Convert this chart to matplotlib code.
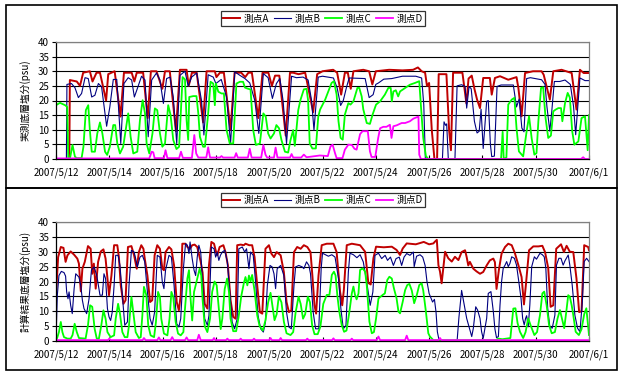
import matplotlib
matplotlib.use("Agg")
import matplotlib.pyplot as plt
from matplotlib.patches import Rectangle
import numpy as np

plt.rcParams["font.family"] = ["Noto Sans CJK JP", "DejaVu Sans"]

# ── データ（横軸 = 2007/5/12 からの経過日数, 縦軸 = 塩分 psu） ──────────
tick_days = list(range(0, 21, 2))
tick_labels = ["2007/5/12", "2007/5/14", "2007/5/16", "2007/5/18", "2007/5/20",
               "2007/5/22", "2007/5/24", "2007/5/26", "2007/5/28", "2007/5/30",
               "2007/6/1"]
series_names = ["測点A", "測点B", "測点C", "測点D"]

# 実測
obs_a = [(0, 0), (0.5, 0), (0.52, 27), (0.78, 26.5), (0.9, 25), (1.02, 29.5), (1.27, 30), (1.37, 26.5),
         (1.52, 29.5), (1.65, 29.5), (1.88, 20), (1.96, 29), (2.2, 30), (2.42, 14.5), (2.55, 29.5),
         (2.84, 29.5), (2.94, 26.5), (3.03, 29.5), (3.27, 29.5), (3.44, 14), (3.56, 30), (3.77, 30),
         (3.99, 24), (4.09, 30), (4.27, 30), (4.5, 9.5), (4.65, 30.5), (4.9, 30.5), (4.98, 25),
         (5.1, 29.5), (5.28, 29.5), (5.52, 12.5), (5.65, 30), (5.96, 30), (6.02, 28), (6.15, 29.5),
         (6.3, 29.5), (6.55, 10), (6.7, 29.5), (6.95, 29.5), (7.1, 28), (7.22, 29.5), (7.35, 29.5),
         (7.59, 14), (7.75, 29.5), (7.97, 29.5), (8.1, 25), (8.22, 28.5), (8.38, 28.5), (8.62, 8),
         (8.78, 29.5), (8.9, 29.5), (9.1, 29), (9.35, 29.5), (9.65, 16), (9.8, 29), (10.0, 30),
         (10.4, 30.5), (10.55, 29.5), (10.7, 22), (10.84, 29.5), (10.95, 29.5), (11.06, 24),
         (11.16, 30), (11.53, 30.5), (11.75, 30), (11.87, 25.5), (12.0, 30), (12.5, 30.5),
         (13.0, 30.3), (13.4, 30.5), (13.58, 31.3), (13.72, 30), (13.85, 29.5), (13.92, 25),
         (14.0, 26), (14.1, 10), (14.2, 0), (14.3, 0), (14.36, 29), (14.65, 29), (14.75, 10),
         (14.82, 3), (14.9, 29.5), (15.25, 29.5), (15.4, 19), (15.48, 27.5), (15.6, 28.5),
         (15.7, 24), (15.8, 20.3), (15.91, 17.4), (16.03, 27.7), (16.28, 27.7), (16.35, 22),
         (16.47, 27.7), (16.66, 28.3), (16.97, 27.1), (17.28, 28), (17.35, 24.3), (17.47, 14.6),
         (17.6, 29.4), (17.9, 30), (18.22, 30), (18.3, 28.8), (18.53, 20.3), (18.66, 30),
         (18.97, 30.5), (19.35, 29.4), (19.53, 16.9), (19.66, 30.5), (19.8, 29.4), (20.0, 29.4)]
obs_b = [(0, 0), (0.39, 0), (0.41, 25.5), (0.58, 25.8), (0.71, 24.4), (0.84, 21), (0.96, 22.4),
         (1.09, 27.8), (1.21, 27.5), (1.34, 21.2), (1.46, 21.8), (1.59, 25.8), (1.71, 24.7),
         (1.9, 11.2), (2.02, 17.8), (2.15, 27.2), (2.28, 27.2), (2.43, 5.3), (2.55, 25.8),
         (2.71, 27.8), (2.84, 27), (2.94, 21.2), (3.03, 23.5), (3.21, 28.3), (3.34, 27), (3.46, 7.6),
         (3.59, 27), (3.77, 29.4), (3.9, 27), (4.03, 19), (4.15, 27.5), (4.28, 28), (4.4, 21.2),
         (4.53, 5.3), (4.65, 28.6), (4.84, 30), (4.96, 24.9), (5.09, 28), (5.28, 29.4), (5.46, 20),
         (5.55, 8.2), (5.71, 28.8), (5.9, 28), (6.0, 25.8), (6.2, 27.2), (6.4, 21.2), (6.55, 5.3),
         (6.71, 29.8), (6.9, 28.6), (7.09, 27.5), (7.27, 26), (7.46, 20), (7.61, 8.75), (7.78, 29.2),
         (7.96, 27.8), (8.12, 20.7), (8.27, 25.8), (8.4, 27.5), (8.52, 20), (8.65, 5.3), (8.84, 28.3),
         (9.02, 27.8), (9.27, 28), (9.46, 27), (9.59, 20), (9.68, 9.9), (9.84, 28), (10.0, 28.3),
         (10.41, 27.7), (10.55, 24.3), (10.68, 18.3), (10.78, 20), (10.9, 24.5), (11.0, 27.7),
         (11.6, 27.5), (11.75, 21), (11.9, 22), (12.0, 25.5), (12.1, 26), (12.3, 27.3), (12.6, 27.5),
         (13.0, 28.3), (13.5, 28.3), (13.72, 27.7), (13.8, 18.6), (13.86, 0), (14.5, 0),
         (14.56, 12.7), (14.62, 11.5), (14.66, 12), (14.72, 0), (14.97, 0), (15.05, 25),
         (15.22, 25.4), (15.35, 24.8), (15.41, 17.4), (15.5, 24.8), (15.58, 24), (15.7, 12.9),
         (15.8, 8.9), (15.88, 9.5), (15.95, 17), (16.03, 3.6), (16.16, 19.7), (16.22, 20),
         (16.3, 5), (16.35, 0.8), (16.45, 1), (16.55, 24.8), (16.7, 25.3), (17.16, 25.3),
         (17.28, 17.8), (17.38, 20.5), (17.48, 10.6), (17.56, 9.3), (17.66, 27.5), (17.8, 27.8),
         (18.22, 27.1), (18.35, 25.5), (18.42, 18), (18.53, 9.5), (18.6, 16), (18.7, 26.5),
         (18.9, 26.5), (19.1, 27), (19.3, 25.5), (19.42, 18), (19.5, 8.3), (19.66, 27.7),
         (19.85, 26.8), (20.0, 26.8)]
obs_c = [(0, 18.4), (0.15, 19.2), (0.34, 18.4), (0.42, 17.8), (0.46, 0), (0.52, 0), (0.62, 4.8),
         (0.71, 0.8), (0.78, 0.3), (0.96, 0.3), (1.03, 4.2), (1.12, 16.7), (1.21, 18.4), (1.27, 9.9),
         (1.34, 2.5), (1.46, 2.5), (1.55, 8.75), (1.65, 12.5), (1.74, 8.75), (1.84, 2.5), (1.92, 1.4),
         (2.02, 4.2), (2.15, 11.6), (2.22, 11.6), (2.3, 5.3), (2.4, 1.9), (2.52, 4.2), (2.71, 15.6),
         (2.8, 7.6), (2.9, 1.9), (3.05, 2.5), (3.15, 13.3), (3.25, 20.1), (3.34, 15.6), (3.4, 5.3),
         (3.5, 1.9), (3.62, 8.75), (3.71, 17.3), (3.8, 16.7), (3.9, 8.75), (3.99, 4.2), (4.09, 5.3),
         (4.21, 18.4), (4.3, 15), (4.4, 6.5), (4.52, 3.4), (4.62, 4.2), (4.75, 28), (4.84, 27.2),
         (4.9, 13.3), (4.96, 6.5), (5.0, 21.2), (5.15, 21.5), (5.27, 21.5), (5.34, 15.6), (5.4, 7.6),
         (5.52, 4.2), (5.59, 4.2), (5.71, 15.6), (5.8, 26.4), (5.9, 25.8), (5.96, 18.4), (6.0, 25.8),
         (6.09, 23), (6.21, 22.4), (6.3, 22.4), (6.4, 9.9), (6.52, 5.3), (6.65, 5.3), (6.77, 25.8),
         (6.9, 26.4), (7.02, 26.4), (7.09, 24.4), (7.21, 24), (7.3, 23.8), (7.4, 9.9), (7.5, 4.8),
         (7.65, 5.3), (7.78, 15.6), (7.87, 14.5), (7.96, 8.75), (8.05, 7), (8.18, 8.75), (8.27, 11.6),
         (8.37, 10.5), (8.46, 6.5), (8.59, 2.5), (8.71, 2.2), (8.8, 6.5), (8.9, 9.9), (8.96, 4.5),
         (9.02, 9.9), (9.09, 16.7), (9.17, 20.1), (9.3, 23.8), (9.4, 24), (9.46, 20), (9.52, 5.3),
         (9.62, 3.6), (9.75, 3.6), (9.84, 14.4), (9.91, 16.9), (10.1, 20.3), (10.22, 23.1),
         (10.34, 26), (10.43, 26.6), (10.53, 22), (10.6, 12.9), (10.68, 7.2), (10.76, 6.6),
         (10.84, 15.2), (10.97, 19.1), (11.05, 18.6), (11.16, 19.7), (11.31, 24.3), (11.38, 24.3),
         (11.47, 21.4), (11.53, 17), (11.66, 12.3), (11.78, 12), (11.88, 15.2), (12.01, 18.6),
         (12.16, 19.7), (12.34, 22), (12.47, 24.3), (12.56, 24.3), (12.6, 19.7), (12.66, 23.1),
         (12.75, 23.5), (12.84, 21.4), (12.91, 23.1), (13.1, 24.3), (13.28, 25.4), (13.47, 26),
         (13.63, 26.6), (13.69, 18.6), (13.78, 7.2), (13.88, 1), (13.97, 0), (16.7, 0),
         (16.76, 9.3), (16.8, 0), (16.9, 0.5), (16.97, 18.6), (17.1, 20.3), (17.2, 20.9),
         (17.28, 10.6), (17.37, 2.6), (17.53, 0.9), (17.66, 9.5), (17.75, 14.6), (17.85, 7),
         (17.95, 1.5), (18.03, 2), (18.1, 12.9), (18.2, 24.3), (18.28, 24.5), (18.37, 14),
         (18.47, 7.2), (18.57, 8), (18.66, 16.3), (18.75, 16.9), (18.85, 17.4), (18.95, 17.4),
         (19.0, 12.9), (19.1, 19.1), (19.2, 22.6), (19.28, 21), (19.37, 9.5), (19.45, 4.9),
         (19.6, 6), (19.72, 14), (19.85, 14.6), (19.95, 3), (20.0, 15)]
obs_d = [(0, 0.2), (3.5, 0.2), (3.59, 2.5), (3.65, 2.3), (3.7, 0.3), (4.05, 0.3), (4.11, 3),
         (4.18, 0.3), (4.62, 0.3), (4.69, 2.5), (4.76, 0.4), (5.1, 0.4), (5.19, 8.2), (5.26, 1.9),
         (5.34, 0.5), (5.64, 0.5), (5.71, 4), (5.78, 0.5), (6.15, 0.5), (6.21, 1), (6.27, 0.5),
         (6.7, 0.5), (6.76, 2), (6.82, 0.5), (7.2, 0.5), (7.27, 3.5), (7.34, 0.5), (7.7, 0.5),
         (7.78, 4.8), (7.86, 1.5), (7.92, 0.5), (8.18, 0.5), (8.24, 3.9), (8.31, 0.5), (8.78, 0.5),
         (8.84, 1.7), (8.9, 0.5), (9.2, 0.5), (9.3, 1.5), (9.4, 0.6), (9.9, 1.2), (10.2, 1),
         (10.3, 4.3), (10.38, 4.9), (10.47, 2), (10.53, 0.3), (10.75, 0.3), (10.84, 3.2),
         (10.97, 4.9), (11.1, 4.8), (11.2, 3.5), (11.28, 3.2), (11.41, 8.5), (11.5, 9.5),
         (11.7, 9.5), (11.78, 2.6), (11.84, 0.7), (11.98, 0.7), (12.09, 7.2), (12.16, 10.5),
         (12.28, 11), (12.4, 11), (12.53, 11.7), (12.59, 7.2), (12.66, 11.2), (12.78, 11.5),
         (12.97, 12.3), (13.1, 12.3), (13.28, 12.9), (13.41, 13.8), (13.6, 14.5), (13.63, 1.5),
         (13.69, 0), (19.7, 0), (19.78, 0.6), (19.85, 0), (20, 0)]

# 計算結果
calc_a = [(0, 15.4), (0.08, 28.2), (0.18, 31.6), (0.28, 31.3), (0.36, 26.6), (0.43, 28.8), (0.55, 30.1),
          (0.68, 29), (0.8, 27.7), (0.86, 26), (0.93, 16.7), (0.99, 24.3), (1.08, 26.6), (1.2, 31.9),
          (1.3, 31), (1.36, 22.6), (1.42, 26), (1.49, 17.6), (1.58, 26.6), (1.68, 30.1), (1.78, 30.8),
          (1.86, 27.7), (1.93, 21), (1.99, 15.4), (2.08, 22), (2.18, 32.2), (2.3, 32.2), (2.36, 28.2),
          (2.43, 18.7), (2.53, 12.5), (2.61, 13.7), (2.7, 31.6), (2.83, 31.9), (2.93, 28.8),
          (3.03, 24.3), (3.11, 29.9), (3.2, 32.2), (3.28, 31), (3.33, 27.7), (3.43, 22), (3.53, 13.1),
          (3.61, 13.7), (3.7, 28.8), (3.8, 32.2), (3.9, 31), (3.99, 24.3), (4.05, 23.8), (4.11, 29.9),
          (4.24, 31.6), (4.33, 30.8), (4.43, 25.4), (4.53, 13.1), (4.61, 10.3), (4.68, 15.4),
          (4.74, 32.7), (4.86, 32.7), (4.93, 31.6), (5.03, 31), (5.11, 32.2), (5.2, 32.4), (5.3, 31.6),
          (5.43, 26.6), (5.5, 23), (5.58, 12.5), (5.68, 10.9), (5.74, 25.4), (5.83, 33.3),
          (5.93, 32.7), (5.99, 30.5), (6.05, 28.8), (6.14, 31.6), (6.28, 32.2), (6.36, 29.9),
          (6.45, 25.4), (6.55, 13.7), (6.65, 8.1), (6.74, 7.5), (6.8, 32.2), (6.93, 32.4),
          (7.05, 32.2), (7.11, 32.7), (7.25, 32.2), (7.36, 32.2), (7.45, 28.2), (7.55, 18.7),
          (7.65, 9.7), (7.74, 9.2), (7.86, 31), (7.99, 32.2), (8.08, 29.4), (8.18, 28.2), (8.28, 29.9),
          (8.43, 28.8), (8.55, 23.2), (8.65, 13.1), (8.74, 9.7), (8.83, 10.3), (8.93, 29.9),
          (9.05, 31.6), (9.18, 31), (9.3, 32.2), (9.43, 31.6), (9.55, 29.9), (9.62, 22), (9.7, 12),
          (9.76, 9.2), (9.85, 22), (9.97, 32.2), (10.16, 32.7), (10.41, 32.7), (10.53, 29.9),
          (10.66, 16.5), (10.74, 12), (10.8, 17), (10.91, 32.2), (11.1, 32.7), (11.41, 32.2),
          (11.6, 30), (11.72, 19.5), (11.81, 19), (11.91, 27.8), (12.01, 31.7), (12.3, 31.5),
          (12.6, 31.7), (12.78, 30.6), (12.91, 28.9), (13.01, 31.1), (13.16, 32.8), (13.5, 32.5),
          (13.8, 33.3), (14.0, 32.5), (14.16, 32.8), (14.22, 33.4), (14.29, 34), (14.35, 25.5),
          (14.41, 23.3), (14.47, 19.4), (14.6, 30), (14.72, 27.8), (14.85, 26.7), (14.97, 28.3),
          (15.1, 27.2), (15.22, 29.9), (15.35, 30.5), (15.41, 28.2), (15.47, 25.4), (15.53, 26.6),
          (15.66, 24.3), (15.78, 23.4), (15.91, 22.6), (16.03, 23.2), (16.16, 25.4), (16.28, 27.1),
          (16.41, 27.7), (16.47, 26.5), (16.53, 17.5), (16.62, 24), (16.72, 29.4), (16.85, 31.6),
          (16.97, 32.7), (17.1, 32.2), (17.22, 29.5), (17.35, 25.5), (17.47, 21.5), (17.56, 12.3),
          (17.63, 18.7), (17.75, 30.5), (17.91, 31.8), (18.1, 31.8), (18.25, 32), (18.35, 29.9),
          (18.47, 24.5), (18.56, 11.5), (18.66, 12), (18.77, 31), (18.95, 32.5), (19.06, 29.9),
          (19.16, 32), (19.28, 30), (19.41, 29.9), (19.53, 21), (19.63, 9.7), (19.72, 10),
          (19.82, 32.2), (19.97, 31.6), (20.0, 30.5)]
calc_b = [(0, 0.8), (0.05, 15.4), (0.11, 22), (0.2, 23.4), (0.3, 23), (0.36, 21.8), (0.4, 16.5),
          (0.45, 14.2), (0.49, 16.5), (0.55, 12), (0.61, 9.2), (0.68, 17.6), (0.74, 22.6), (0.86, 21.5),
          (0.93, 18.7), (0.99, 13.7), (1.05, 10.9), (1.15, 9.2), (1.24, 14.2), (1.33, 23.8),
          (1.43, 24.9), (1.53, 22), (1.58, 19.3), (1.65, 15.4), (1.74, 15.4), (1.8, 22.6), (1.86, 21),
          (1.93, 10.9), (1.99, 8.1), (2.05, 6.9), (2.11, 9.7), (2.18, 18.7), (2.24, 28.8),
          (2.33, 28.8), (2.4, 25.4), (2.49, 15.4), (2.58, 5.3), (2.68, 6.4), (2.74, 18.7),
          (2.83, 30.5), (2.93, 29.9), (2.99, 27.7), (3.05, 24.9), (3.15, 28.2), (3.24, 28.8),
          (3.33, 26.6), (3.43, 16.5), (3.53, 7.5), (3.61, 5.3), (3.7, 9.7), (3.8, 28.8), (3.9, 28.2),
          (3.99, 19.8), (4.05, 17.6), (4.11, 23.8), (4.24, 28.8), (4.33, 28.2), (4.43, 18.7),
          (4.53, 5.8), (4.61, 4.7), (4.68, 7.5), (4.78, 24.3), (4.86, 32.7), (4.93, 32.2),
          (4.99, 29.4), (5.03, 33.3), (5.08, 29.9), (5.11, 27.7), (5.18, 23.8), (5.24, 22),
          (5.3, 28.2), (5.36, 32.2), (5.43, 29.9), (5.49, 21), (5.58, 7.5), (5.68, 5.3), (5.74, 8.6),
          (5.83, 31.6), (5.93, 31), (5.99, 28.2), (6.05, 29.9), (6.11, 27.1), (6.17, 28.8),
          (6.24, 29.9), (6.33, 30.5), (6.43, 26.6), (6.53, 15.4), (6.61, 6.4), (6.7, 4.1), (6.8, 7.5),
          (6.86, 31), (6.99, 31.6), (7.08, 29.9), (7.15, 31), (7.24, 24.3), (7.3, 29.9), (7.4, 28.8),
          (7.49, 19.8), (7.58, 8.6), (7.68, 4.1), (7.78, 3), (7.86, 6.4), (7.93, 18.7), (8.03, 25.4),
          (8.11, 24.9), (8.18, 22.6), (8.24, 17.6), (8.3, 24.3), (8.43, 25.4), (8.55, 22),
          (8.65, 9.7), (8.74, 4.7), (8.83, 4.1), (8.93, 18.7), (8.99, 24.9), (9.11, 25.4),
          (9.24, 24.9), (9.3, 24.3), (9.4, 26.6), (9.49, 25.4), (9.55, 22.6), (9.65, 9.7),
          (9.74, 4.1), (9.86, 4.1), (9.95, 24.3), (10.0, 29.5), (10.22, 28.5), (10.35, 29),
          (10.47, 28.2), (10.6, 21), (10.69, 10.9), (10.78, 4.1), (10.88, 5.2), (10.97, 23.2),
          (11.03, 29.5), (11.16, 29), (11.29, 28), (11.41, 29), (11.53, 26.6), (11.66, 19.8),
          (11.79, 12), (11.89, 16.5), (11.97, 28.8), (12.1, 29.5), (12.22, 27.7), (12.35, 28.8),
          (12.44, 27.1), (12.55, 28.2), (12.66, 25.4), (12.76, 27.7), (12.88, 28.2), (12.97, 25.4),
          (13.06, 28.2), (13.16, 29.4), (13.28, 28.8), (13.41, 29.9), (13.44, 25), (13.53, 28.5),
          (13.66, 29), (13.76, 28.2), (13.85, 25.4), (13.92, 20), (14.0, 16), (14.13, 13.1),
          (14.2, 14), (14.26, 9.7), (14.31, 3.1), (14.38, 0), (15.05, 0), (15.12, 8), (15.22, 17),
          (15.3, 13), (15.41, 7.6), (15.53, 3.7), (15.6, 1.5), (15.66, 4.3), (15.75, 11.5),
          (15.82, 10.4), (15.91, 7.6), (15.97, 3.1), (16.03, 0.9), (16.16, 7.6), (16.22, 16),
          (16.32, 16.6), (16.41, 9.9), (16.47, 4), (16.53, 1.1), (16.6, 1.5), (16.66, 12),
          (16.72, 20), (16.78, 24.4), (16.85, 25.5), (16.91, 26.7), (16.97, 25), (17.03, 26),
          (17.1, 28.3), (17.2, 27.8), (17.28, 25.5), (17.35, 21), (17.45, 14.3), (17.51, 7.6),
          (17.57, 5.4), (17.62, 7.6), (17.66, 8.5), (17.72, 4.8), (17.78, 12.1), (17.85, 25),
          (17.95, 28.3), (18.03, 27.5), (18.16, 29.5), (18.25, 29), (18.32, 28.3), (18.38, 24.5),
          (18.45, 11), (18.53, 4.8), (18.62, 4.3), (18.72, 8.7), (18.78, 25.5), (18.87, 27.8),
          (18.95, 27.8), (19.03, 25.5), (19.1, 27), (19.22, 28.9), (19.28, 25.5), (19.37, 18.8),
          (19.47, 8.7), (19.57, 4.3), (19.66, 3.1), (19.75, 13.2), (19.82, 26.7), (19.91, 27.8),
          (20.0, 26.7)]
calc_c = [(0, 0.2), (0.05, 1.2), (0.11, 3), (0.18, 6.4), (0.24, 3), (0.3, 1.3), (0.43, 0.8), (0.55, 0.8),
          (0.62, 2), (0.7, 5.8), (0.78, 3), (0.86, 1), (1.11, 0.8), (1.2, 5.3), (1.28, 12), (1.36, 11.5),
          (1.45, 4.1), (1.53, 0.8), (1.61, 0.8), (1.7, 5.3), (1.78, 10.3), (1.86, 7.5), (1.93, 3),
          (2.05, 1.3), (2.18, 1.9), (2.24, 7.5), (2.33, 12.5), (2.4, 9.2), (2.49, 3), (2.58, 1.3),
          (2.68, 1.3), (2.74, 5.3), (2.83, 14.8), (2.9, 9.7), (2.99, 3), (3.11, 1), (3.18, 1.3),
          (3.24, 8.6), (3.3, 18.2), (3.39, 15.4), (3.46, 5.3), (3.55, 1.9), (3.68, 1.3), (3.75, 6.4),
          (3.83, 16.5), (3.9, 14.8), (3.95, 7.5), (4.05, 2.5), (4.18, 1.9), (4.26, 7.5), (4.33, 16.5),
          (4.4, 14.8), (4.49, 6.4), (4.58, 2.5), (4.68, 1.9), (4.78, 3), (4.83, 9.7), (4.93, 21),
          (4.99, 23.8), (5.05, 14.2), (5.11, 6.9), (5.18, 16.5), (5.24, 18.7), (5.3, 21), (5.39, 24.3),
          (5.45, 22), (5.5, 14), (5.58, 5), (5.68, 3), (5.78, 7.5), (5.86, 16.5), (5.95, 20),
          (6.03, 18.7), (6.11, 10.9), (6.18, 4), (6.24, 7.5), (6.33, 17.5), (6.42, 21), (6.49, 16.5),
          (6.55, 7.5), (6.65, 3.3), (6.76, 3.3), (6.85, 8), (6.95, 15), (7.05, 19.5), (7.11, 21.5),
          (7.18, 18.7), (7.24, 22), (7.3, 20), (7.36, 22.2), (7.45, 17), (7.55, 8.7), (7.64, 5),
          (7.76, 3.5), (7.86, 7), (7.96, 13), (8.05, 16.2), (8.12, 12), (8.2, 7), (8.28, 9), (8.36, 15),
          (8.46, 13), (8.55, 6.5), (8.65, 2.6), (8.8, 2), (8.9, 3), (8.99, 9.5), (9.1, 14.9),
          (9.18, 12.5), (9.27, 7.5), (9.35, 9), (9.45, 14.9), (9.53, 13), (9.61, 5.3), (9.7, 2.3),
          (9.82, 2.3), (9.92, 4.8), (10.03, 12.5), (10.16, 15.5), (10.26, 15.5), (10.35, 22.2),
          (10.43, 23.3), (10.49, 22), (10.56, 15), (10.63, 9.9), (10.72, 5.4), (10.81, 3.1),
          (10.9, 3.5), (11.01, 9.9), (11.1, 16), (11.16, 18.3), (11.22, 15.5), (11.28, 14),
          (11.35, 16), (11.41, 23.9), (11.51, 24.4), (11.6, 23.3), (11.66, 18.8), (11.76, 6.5),
          (11.85, 2.6), (11.93, 3), (12.01, 7.6), (12.1, 14.3), (12.26, 15.5), (12.34, 16),
          (12.43, 20.5), (12.51, 21.6), (12.6, 21), (12.68, 17.7), (12.78, 14.3), (12.85, 9.9),
          (12.91, 9.3), (13.01, 13.2), (13.1, 17.1), (13.18, 18.8), (13.26, 19.2), (13.35, 17),
          (13.44, 12.7), (13.54, 15.5), (13.63, 18.8), (13.72, 19.4), (13.78, 17), (13.88, 9.9),
          (13.97, 2.6), (14.03, 1.5), (14.16, 0.3), (16.5, 0.3), (16.6, 0.8), (16.75, 0.6),
          (16.9, 0.8), (17.05, 1), (17.16, 10.9), (17.24, 11), (17.32, 6), (17.41, 3.1), (17.53, 1),
          (17.62, 3), (17.72, 7.6), (17.82, 5), (17.95, 2), (18.05, 3), (18.16, 8.7), (18.25, 16),
          (18.32, 16.6), (18.41, 12), (18.5, 5.4), (18.6, 2.6), (18.72, 3), (18.82, 7.6),
          (18.91, 10.4), (19.0, 7), (19.07, 4.3), (19.15, 10), (19.22, 15.4), (19.28, 14.9),
          (19.35, 12), (19.41, 8.7), (19.5, 3.1), (19.62, 2), (19.72, 4), (19.82, 9), (19.9, 11),
          (20.0, 2)]
calc_d = [(0, 0.3), (1.95, 0.3), (2.0, 0.8), (2.05, 0.3), (3.25, 0.3), (3.3, 1.0), (3.36, 0.3),
          (3.8, 0.3), (3.86, 1.2), (3.92, 0.3), (4.3, 0.3), (4.36, 1.3), (4.42, 0.3), (4.84, 0.3),
          (4.9, 1.2), (4.96, 0.3), (5.3, 0.3), (5.36, 2.1), (5.43, 0.3), (5.88, 0.3), (5.93, 1),
          (5.98, 0.3), (6.38, 0.3), (6.43, 0.8), (6.48, 0.3), (6.88, 0.3), (6.93, 0.8), (6.98, 0.3),
          (7.38, 0.3), (7.43, 0.8), (7.48, 0.3), (8.0, 0.3), (8.05, 1), (8.1, 0.3), (8.38, 0.3),
          (8.43, 1), (8.48, 0.3), (9.38, 0.3), (9.43, 0.8), (9.48, 0.3), (10.36, 0.3), (10.41, 0.9),
          (10.46, 0.3), (11.05, 0.3), (11.1, 0.8), (11.15, 0.3), (12.03, 0.3), (12.1, 1.5),
          (12.16, 0.3), (13.1, 0.3), (13.16, 1.8), (13.22, 0.3), (14.36, 0.3), (14.41, 1),
          (14.46, 0.3), (20, 0.3)]

COLORS = ["#C00000", "#000080", "#00FF00", "#FF00FF"]
WIDTHS = [1.4, 0.8, 1.3, 1.3]

W, H = 619, 372


def fx(px):
    return px / W


def fy(py):
    return 1 - py / H


def draw_panel(ax, series):
    lines = []
    for pts, name, color, lw in zip(series, series_names, COLORS, WIDTHS):
        arr = np.array(pts, dtype=float)
        ln, = ax.plot(arr[:, 0], arr[:, 1], color=color, lw=lw, label=name,
                      solid_joinstyle="round")
        lines.append(ln)
    ax.set_xlim(0, 20)
    ax.set_ylim(0, 40)
    ax.set_yticks(range(0, 41, 5))
    ax.set_xticks(tick_days)
    ax.set_xticklabels(tick_labels)
    ax.set_axisbelow(True)
    ax.yaxis.grid(True, color="black", lw=0.8)
    ax.xaxis.grid(False)
    for side in ("top", "right"):
        ax.spines[side].set_color("#808080")
        ax.spines[side].set_linewidth(0.9)
    for side in ("left", "bottom"):
        ax.spines[side].set_color("black")
        ax.spines[side].set_linewidth(0.9)
    ax.tick_params(axis="x", direction="in", length=3, width=0.8, pad=6, labelsize=7)
    ax.tick_params(axis="y", direction="out", length=3, width=0.8, pad=2, labelsize=7)
    return lines


fig = plt.figure(figsize=(W / 100, H / 100), dpi=100)
fig.patch.set_facecolor("white")

# パネル枠
for top, bottom in [(5, 188), (188, 370)]:
    fig.add_artist(Rectangle((fx(6), fy(bottom)), fx(617) - fx(6), fy(top) - fy(bottom),
                             transform=fig.transFigure, fill=False, edgecolor="black", lw=1.2))

ax1 = fig.add_axes([fx(56), fy(159), fx(589) - fx(56), fy(42) - fy(159)])
ax2 = fig.add_axes([fx(56), fy(341), fx(589) - fx(56), fy(222) - fy(341)])

h1 = draw_panel(ax1, [obs_a, obs_b, obs_c, obs_d])
h2 = draw_panel(ax2, [calc_a, calc_b, calc_c, calc_d])

fig.text(fx(25), (fy(42) + fy(159)) / 2, "実測底層塩分(psu)", rotation=90,
         ha="center", va="center", fontsize=7)
fig.text(fx(25), (fy(222) + fy(341)) / 2, "計算結果底層塩分(psu)", rotation=90,
         ha="center", va="center", fontsize=7)

for handles, cy in [(h1, 18.5), (h2, 200)]:
    leg = fig.legend(handles=handles, labels=series_names, loc="center",
                     bbox_to_anchor=(fx(323), fy(cy)), ncol=4, fontsize=7,
                     frameon=True, fancybox=False, edgecolor="black",
                     handlelength=1.8, handletextpad=0.35, columnspacing=0.45,
                     borderpad=0.25, borderaxespad=0)
    leg.get_frame().set_linewidth(0.9)

fig.savefig("out.png", dpi=100, facecolor="white")
